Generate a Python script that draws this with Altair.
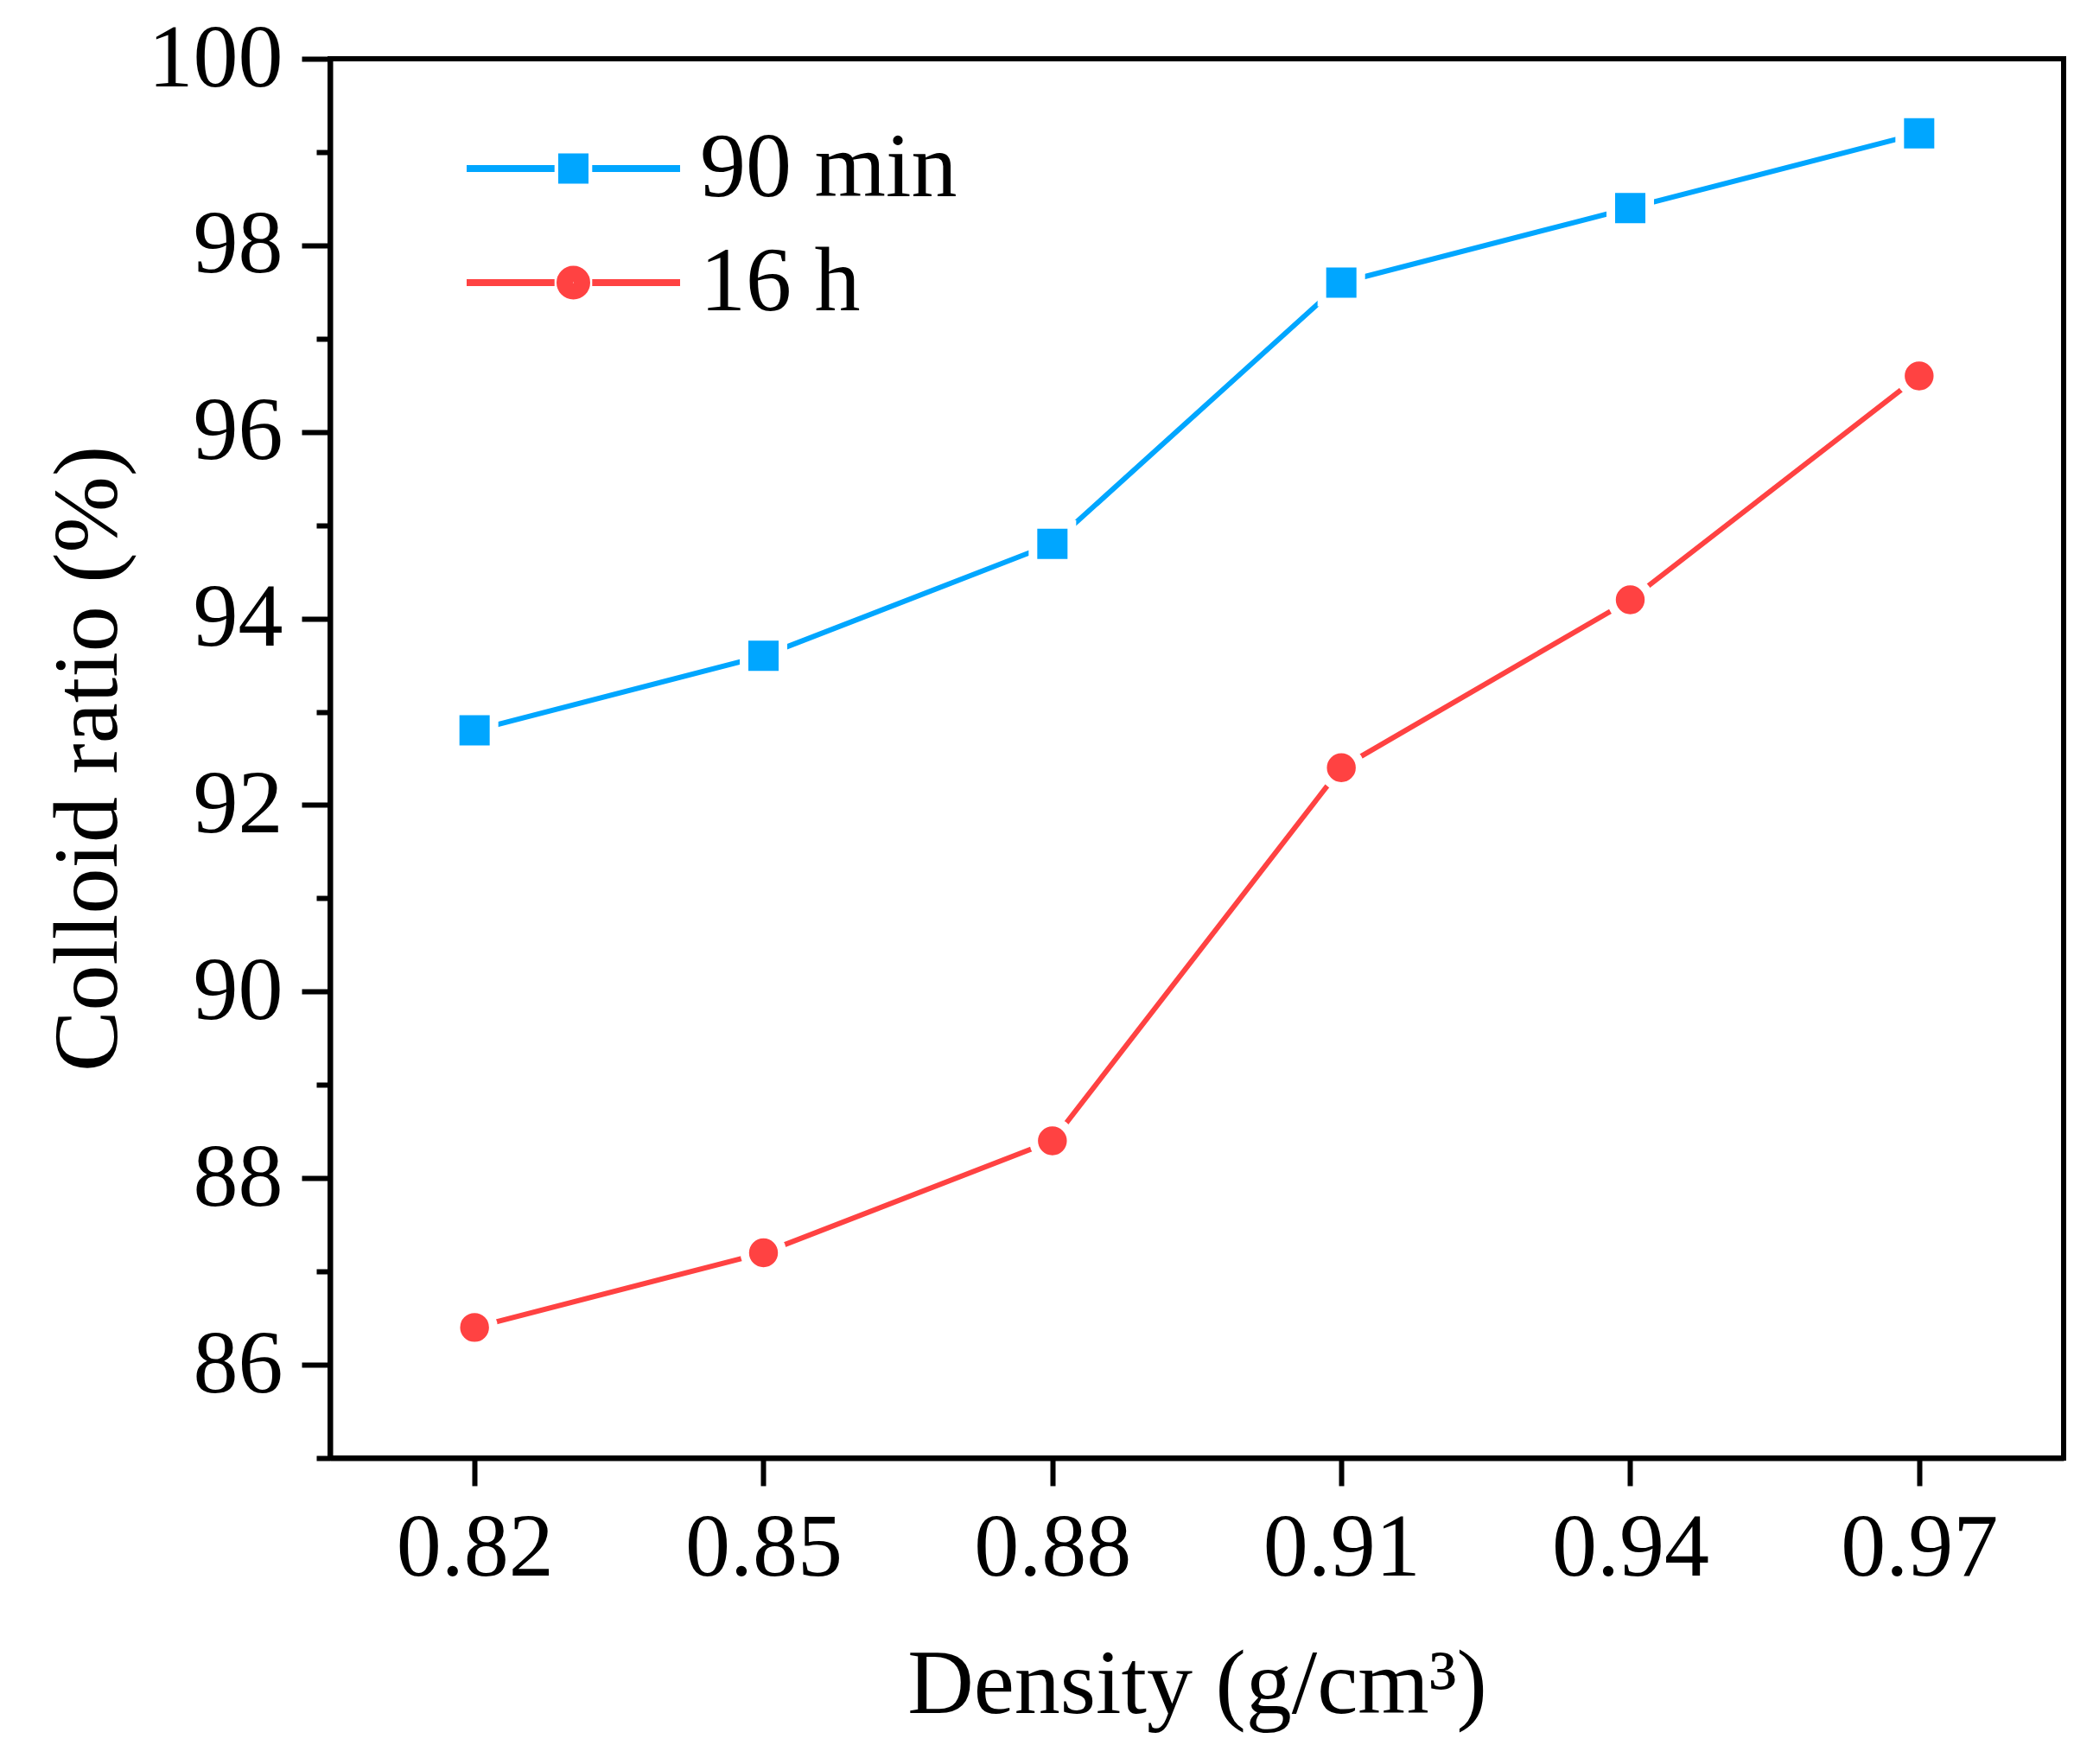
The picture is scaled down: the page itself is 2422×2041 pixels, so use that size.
import altair as alt
import pandas as pd

# ---- data ----
density = [0.82, 0.85, 0.88, 0.91, 0.94, 0.97]
ratio_90min = [92.8, 93.6, 94.8, 97.6, 98.4, 99.2]
ratio_16h = [86.4, 87.2, 88.4, 92.4, 94.2, 96.6]
series_names = ["90 min", "16 h"]
y_tick_values = list(range(85, 101))

BLUE = "#00A6FF"
RED = "#FF4242"
FONT = "Liberation Serif"

df = pd.DataFrame({
    "density": density + density,
    "ratio": ratio_90min + ratio_16h,
    "series": [series_names[0]] * len(density) + [series_names[1]] * len(density),
})

# legend symbol paths: line with a gap, and a filled marker built from concentric strokes
def _sq(h):
    return f"M{-h},{-h}H{h}V{h}H{-h}Z"

def _ci(r):
    return f"M{-r},0A{r},{r} 0 1,0 {r},0A{r},{r} 0 1,0 {-r},0Z"

LINE_PART = "M-1,0H-0.1765M0.1765,0H1"
PATH_SQ = LINE_PART + "".join(_sq(h) for h in [0.1093, 0.0769, 0.0445, 0.0162])
PATH_CI = LINE_PART + "".join(_ci(r) for r in [0.1255, 0.0769, 0.0283])

x_enc = alt.X(
    "density:Q",
    scale=alt.Scale(domain=[0.805, 0.985], nice=False, zero=False),
    axis=alt.Axis(
        values=density, format=".2f", tickSize=32, labelPadding=21, labelLimit=2000,
        title="Density (g/cm³)", titlePadding=54,
    ),
)
y_enc = alt.Y(
    "ratio:Q",
    scale=alt.Scale(domain=[85, 100], nice=False, zero=False),
    axis=alt.Axis(
        values=y_tick_values,
        labelExpr="datum.value % 2 === 0 ? datum.label : ''",
        tickSize={"condition": {"test": "datum.value % 2 === 0", "value": 33}, "value": 16},
        labelPadding=22, labelLimit=2000,
        title="Colloid ratio (%)", titlePadding=26,
    ),
)

base = alt.Chart(df).encode(x=x_enc, y=y_enc)

line_a = base.transform_filter(alt.datum.series == series_names[0]).mark_line(
    color=BLUE, strokeWidth=6, strokeCap="round")
line_b = base.transform_filter(alt.datum.series == series_names[1]).mark_line(
    color=RED, strokeWidth=6, strokeCap="round")
pts_a = base.transform_filter(alt.datum.series == series_names[0]).mark_point(
    shape="square", filled=True, fill=BLUE, stroke="white", strokeWidth=10,
    size=2025, opacity=1)
pts_b = base.transform_filter(alt.datum.series == series_names[1]).mark_point(
    shape="circle", filled=True, fill=RED, stroke="white", strokeWidth=10,
    size=1886, opacity=1)

leg = alt.Legend(
    title=None, orient="none", legendX=154, legendY=74,
    symbolSize=61009, symbolStrokeWidth=8, symbolOffset=0,
    labelFont=FONT, labelFontSize=106, labelColor="black",
    labelOffset=19, labelLimit=2000, clipHeight=106, rowPadding=26, padding=0,
)
legend_layer = alt.Chart(df).transform_filter("false").mark_point(
    filled=False, strokeWidth=8, opacity=1).encode(
    color=alt.Color("series:N", scale=alt.Scale(domain=series_names, range=[BLUE, RED]), legend=leg),
    shape=alt.Shape("series:N", scale=alt.Scale(domain=series_names, range=[PATH_SQ, PATH_CI]), legend=leg),
)

chart = alt.layer(line_a, line_b, pts_a, pts_b, legend_layer).properties(
    width=2006, height=1619,
    autosize=alt.AutoSizeParams(type="none"),
    padding={"left": 374, "top": 60, "right": 26, "bottom": 346},
    background="white",
).configure_view(
    stroke="black", strokeWidth=6,
).configure_axis(
    grid=False, domainColor="black", domainWidth=6, tickColor="black", tickWidth=6,
    labelFont=FONT, labelFontSize=104, labelColor="black",
    titleFont=FONT, titleFontSize=106, titleColor="black", titleFontWeight="normal",
)

chart.save("out.html", embed_options={"renderer": "svg", "actions": False})
